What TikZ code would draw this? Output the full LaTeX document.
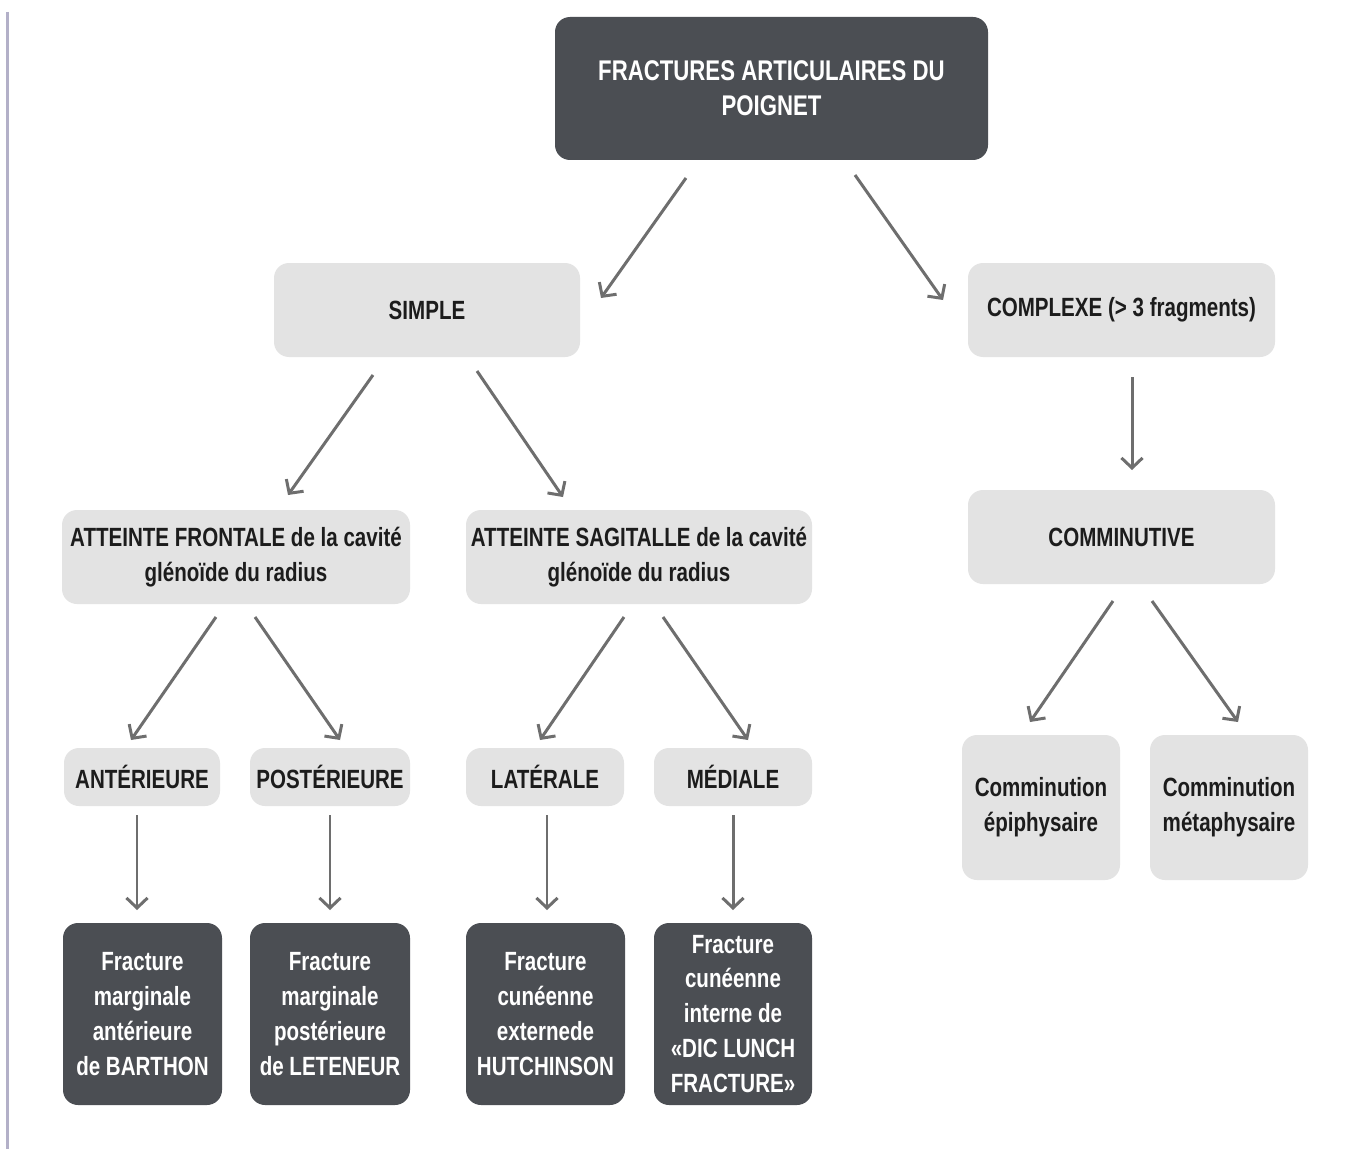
\documentclass[tikz,border=0pt]{standalone}
\usepackage{fontspec}
\setmainfont{Liberation Sans}[FakeStretch=0.78]
\usetikzlibrary{arrows.meta}
\newlength\px \setlength\px{0.02cm}
\definecolor{darkbox}{HTML}{4B4E53}
\definecolor{lightbox}{HTML}{E3E3E3}
\definecolor{arrowc}{HTML}{6E6E6E}
\definecolor{txt}{HTML}{1C1C1C}
\definecolor{edgec}{HTML}{B3B0C8}
\begin{document}
\begin{tikzpicture}[x=1\px,y=-1\px,
  base/.style={rounded corners=0.3cm, inner sep=0pt, align=center,
    font=\fontsize{15}{19.9}\selectfont\bfseries},
  darkn/.style={base, fill=darkbox, text=white},
  lightn/.style={base, fill=lightbox, text=txt},
  arr/.style={draw=arrowc, line width=1.7pt, -{Straight Barb[length=5.7pt,width=12pt]}}]
\useasboundingbox (0,0) rectangle (1346,1149);
\fill[white] (0,0) rectangle (1346,1149);
\draw[edgec, line width=3\px] (7,12) -- (7,1149);

% nodes
\node[darkn, minimum width=433\px, minimum height=143\px, font=\fontsize{16.2}{19.9}\selectfont\bfseries] (top) at (771.5,88.5) {FRACTURES ARTICULAIRES DU\\POIGNET};
\node[lightn, minimum width=306\px, minimum height=94\px] (simple) at (427,310) {SIMPLE};
\node[lightn, minimum width=307\px, minimum height=94\px] (complexe) at (1121.5,310) {COMPLEXE (> 3 fragments)};
\node[lightn, minimum width=348\px, minimum height=94\px] (front) at (236,557) {ATTEINTE FRONTALE de la cavité\\glénoïde du radius};
\node[lightn, minimum width=346\px, minimum height=94\px] (sag) at (639,557) {ATTEINTE SAGITALLE de la cavité\\glénoïde du radius};
\node[lightn, minimum width=307\px, minimum height=94\px] (commin) at (1121.5,537) {COMMINUTIVE};
\node[lightn, minimum width=156\px, minimum height=58\px] (ant) at (142,777) {ANTÉRIEURE};
\node[lightn, minimum width=160\px, minimum height=58\px] (post) at (330,777) {POSTÉRIEURE};
\node[lightn, minimum width=158\px, minimum height=58\px] (lat) at (545,777) {LATÉRALE};
\node[lightn, minimum width=158\px, minimum height=58\px] (med) at (733,777) {MÉDIALE};
\node[lightn, minimum width=158\px, minimum height=145\px] (epi) at (1041,807.5) {Comminution\\épiphysaire};
\node[lightn, minimum width=158\px, minimum height=145\px] (meta) at (1229,807.5) {Comminution\\métaphysaire};
\node[darkn, minimum width=159\px, minimum height=182\px] (barthon) at (142.5,1014) {Fracture\\marginale\\antérieure\\de BARTHON};
\node[darkn, minimum width=160\px, minimum height=182\px] (leteneur) at (330,1014) {Fracture\\marginale\\postérieure\\de LETENEUR};
\node[darkn, minimum width=159\px, minimum height=182\px] (hutch) at (545.5,1014) {Fracture\\cunéenne\\externede\\HUTCHINSON};
\node[darkn, minimum width=158\px, minimum height=182\px] (dic) at (733,1014) {Fracture\\cunéenne\\interne de\\«DIC LUNCH\\FRACTURE»};

% connector end points
\coordinate (top-sl) at (686,178);   \coordinate (simple-n) at (601,298);
\coordinate (top-sr) at (855,175);   \coordinate (complexe-n) at (943,300);
\coordinate (simple-sl) at (373,375); \coordinate (front-n) at (288,495);
\coordinate (simple-sr) at (477,371); \coordinate (sag-n) at (563,497);
\coordinate (complexe-s) at (1132,377); \coordinate (commin-n) at (1132,470);
\coordinate (front-sl) at (216,617); \coordinate (ant-n) at (131,740);
\coordinate (front-sr) at (255,617); \coordinate (post-n) at (340,740);
\coordinate (sag-sl) at (624,617);   \coordinate (lat-n) at (540,740);
\coordinate (sag-sr) at (663,617);   \coordinate (med-n) at (748,740);
\coordinate (commin-sl) at (1113,601); \coordinate (epi-n) at (1030,722);
\coordinate (commin-sr) at (1152,601); \coordinate (meta-n) at (1238,722);
\coordinate (ant-s) at (137,815);  \coordinate (barthon-n) at (137,910);
\coordinate (post-s) at (330,815); \coordinate (leteneur-n) at (330,910);
\coordinate (lat-s) at (547,815);  \coordinate (hutch-n) at (547,910);
\coordinate (med-s) at (733,815);  \coordinate (dic-n) at (733,910);

\draw[arr] (top-sl) -- (simple-n);
\draw[arr] (top-sr) -- (complexe-n);
\draw[arr] (simple-sl) -- (front-n);
\draw[arr] (simple-sr) -- (sag-n);
\draw[arr] (complexe-s) -- (commin-n);
\draw[arr] (front-sl) -- (ant-n);
\draw[arr] (front-sr) -- (post-n);
\draw[arr] (sag-sl) -- (lat-n);
\draw[arr] (sag-sr) -- (med-n);
\draw[arr] (commin-sl) -- (epi-n);
\draw[arr] (commin-sr) -- (meta-n);
\draw[arr] (ant-s) -- (barthon-n);
\draw[arr] (post-s) -- (leteneur-n);
\draw[arr] (lat-s) -- (hutch-n);
\draw[arr] (med-s) -- (dic-n);
\end{tikzpicture}
\end{document}
